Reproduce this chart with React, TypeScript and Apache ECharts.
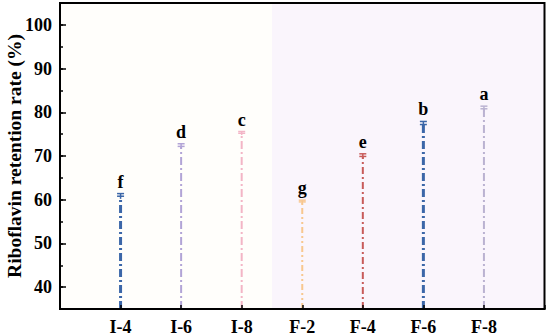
import React, { useEffect, useRef } from "react";
import * as echarts from "echarts";

const categories = ["I-4", "I-6", "I-8", "F-2", "F-4", "F-6", "F-8"];
const values = [60.8, 72.2, 75.2, 59.5, 69.9, 77.2, 80.8];
const errors = [0.6, 0.6, 0.4, 0.4, 0.6, 0.7, 0.6];
const letters = ["f", "d", "c", "g", "e", "b", "a"];
const yTickLabels = [40, 50, 60, 70, 80, 90, 100];

const colors = ["#3b66a8", "#b2a4d6", "#f3b5c6", "#f8c78f", "#c85b5a", "#3b66a8", "#bab2d1"];
const widths = [3, 2, 2, 2, 2, 3, 2];
const dashes = [
  [8, 3, 2, 3],
  [8, 3, 2, 3],
  [8, 3, 2, 3],
  [6, 3, 2, 3, 2, 3],
  [7, 3, 2, 3],
  [8, 3, 2, 3],
  [8, 3, 2, 3],
];

const FONT = '"Liberation Serif", "Times New Roman", serif';

export default function App() {
  const ref = useRef<HTMLDivElement>(null);
  useEffect(() => {
    document.body.style.margin = "0";
    const chart = echarts.init(ref.current!, null, { renderer: "svg" });
    const yMin = 35;
    const yMax = 105;
    const data = categories.map((c, i) => [i + 1, values[i], errors[i], i]);
    chart.setOption({
      animation: false,
      grid: {
        left: 60,
        right: 5.5,
        top: 3,
        bottom: 27,
        show: true,
        z: 5,
        backgroundColor: "transparent",
        borderWidth: 2,
        borderColor: "#000",
        outerBoundsMode: "none",
        containLabel: false,
      },
      xAxis: [
        {
          type: "value",
          min: 0,
          max: 8,
          interval: 1,
          z: 10,
          axisLine: { show: true, onZero: false, lineStyle: { color: "#000", width: 2 } },
          axisTick: { show: true, inside: true, length: 4, lineStyle: { color: "#000", width: 1.5 } },
          splitLine: { show: false },
          axisLabel: {
            formatter: (v: number) => (v >= 1 && v <= categories.length ? categories[v - 1] : ""),
            color: "#000",
            fontFamily: FONT,
            fontWeight: "bold",
            fontSize: 18,
            margin: 9,
          },
        },
      ],
      yAxis: [
        {
          type: "value",
          min: yMin,
          max: yMax,
          interval: 5,
          z: 10,
          name: "Riboflavin retention rate (%)",
          nameLocation: "middle",
          nameGap: 36,
          nameMoveOverlap: false,
          nameTextStyle: { color: "#000", fontFamily: FONT, fontWeight: "bold", fontSize: 19.5 },
          axisLine: { show: true, onZero: false, lineStyle: { color: "#000", width: 2 } },
          axisTick: { show: true, inside: true, length: 3, lineStyle: { color: "#000", width: 1.5 } },
          splitLine: { show: false },
          axisLabel: {
            formatter: (v: number) => (yTickLabels.indexOf(v) >= 0 ? String(v) : ""),
            color: "#000",
            fontFamily: FONT,
            fontWeight: "bold",
            fontSize: 18,
            margin: 8,
          },
        },
        {
          type: "value",
          min: yMin,
          max: yMax,
          splitNumber: 7,
          position: "left",
          z: 10,
          axisLine: { show: false },
          axisTick: { show: true, inside: true, length: 6, lineStyle: { color: "#000", width: 1.5 } },
          axisLabel: { show: false },
          splitLine: { show: false },
        },
      ],
      series: [
        {
          type: "custom",
          xAxisIndex: 0,
          yAxisIndex: 0,
          data,
          markArea: {
            silent: true,
            data: [
              [{ xAxis: 0, itemStyle: { color: "#fffefb" } }, { xAxis: 3.5 }],
              [{ xAxis: 3.5, itemStyle: { color: "#faf5fc" } }, { xAxis: 8 }],
            ],
          },
          renderItem: (params: any, api: any) => {
            const x = api.value(0);
            const v = api.value(1);
            const e = api.value(2);
            const idx = api.value(3);
            const base = api.coord([x, yMin]);
            const top = api.coord([x, v]);
            const hi = api.coord([x, v + e]);
            const lo = api.coord([x, v - e]);
            const color = colors[idx];
            const cw = 3.5;
            return {
              type: "group",
              children: [
                {
                  type: "line",
                  shape: { x1: base[0], y1: base[1], x2: top[0], y2: top[1] },
                  style: { stroke: color, lineWidth: widths[idx], lineDash: dashes[idx] },
                },
                {
                  type: "line",
                  shape: { x1: lo[0], y1: lo[1], x2: hi[0], y2: hi[1] },
                  style: { stroke: color, lineWidth: 1.5 },
                },
                {
                  type: "line",
                  shape: { x1: hi[0] - cw, y1: hi[1], x2: hi[0] + cw, y2: hi[1] },
                  style: { stroke: color, lineWidth: 1.5 },
                },
                {
                  type: "line",
                  shape: { x1: top[0] - cw, y1: top[1], x2: top[0] + cw, y2: top[1] },
                  style: { stroke: color, lineWidth: 1.5 },
                },
                {
                  type: "text",
                  style: {
                    text: letters[idx],
                    x: hi[0],
                    y: hi[1] - 3,
                    align: "center",
                    verticalAlign: "bottom",
                    fill: "#000",
                    font: 'bold 18px "Liberation Serif", "Times New Roman", serif',
                  },
                },
              ],
            };
          },
        },
      ],
    });
    return () => chart.dispose();
  }, []);
  return <div ref={ref} style={{ width: 550, height: 336 }} />;
}
